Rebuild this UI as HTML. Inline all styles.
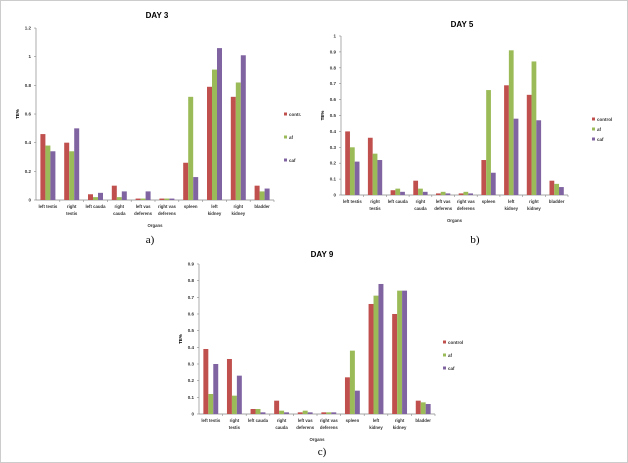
<!DOCTYPE html>
<html><head><meta charset="utf-8"><style>
body{margin:0;background:#fff;}
svg{display:block;font-family:"Liberation Sans",sans-serif;}
</style></head><body>
<svg id="s" width="628" height="463" viewBox="0 0 628 463" xmlns="http://www.w3.org/2000/svg">
<rect x="0.5" y="0.5" width="627" height="462" fill="#fff" stroke="#ccc"/>
</svg>
<script>
const S=document.getElementById('s');const NS='http://www.w3.org/2000/svg';
function el(t,a,txt){const e=document.createElementNS(NS,t);for(const k in a)e.setAttribute(k,a[k]);if(txt!==undefined)e.textContent=txt;S.appendChild(e);return e;}
const cols=['#c0504d','#9bbb59','#8064a2'];
const cats=[['left testis'],['right','testis'],['left cauda'],['right','cauda'],['left vas','deferens'],['right vas','deferens'],['spleen'],['left','kidney'],['right','kidney'],['bladder']];
function chart(c){
 const {x0,x1,y0,unit,max,step,dec,data,title,tx,ty,leg,lx,ly,ldy,lab,labx,laby}=c;
 el('text',{x:tx,y:ty,'font-size':8,'font-weight':'bold','text-anchor':'middle'},title);
 el('line',{x1:x0,y1:y0,x2:x0,y2:y0-max*unit,stroke:'#888','stroke-width':0.7});
 el('line',{x1:x0,y1:y0,x2:x1,y2:y0,stroke:'#888','stroke-width':0.7});
 for(let v=0;v<=max+1e-9;v+=step){const y=y0-v*unit;
  el('line',{x1:x0-2,y1:y,x2:x0,y2:y,stroke:'#888','stroke-width':0.6});
  el('text',{x:x0-5,y:y+1.5,'font-size':4.5,'font-weight':'bold','text-anchor':'end',fill:'#333'},v===0?'0':(+v.toFixed(1)).toString());}
 el('text',{x:0,y:0,'font-size':4.5,'font-weight':'bold','text-anchor':'middle',transform:`translate(${x0-17},${y0-max*unit/2}) rotate(-90)`},'TE%');
 const cw=(x1-x0)/10,bw=cw*0.21;
 data.forEach((g,i)=>{const cx=x0+cw*(i+0.5);
  el('line',{x1:x0+cw*(i+1),y1:y0,x2:x0+cw*(i+1),y2:y0+2,stroke:'#888','stroke-width':0.6});
  g.forEach((v,j)=>{const h=v*unit;el('rect',{x:cx-1.5*bw+j*bw,y:y0-h,width:bw,height:h,fill:cols[j]});});
  cats[i].forEach((t,k)=>el('text',{x:cx,y:y0+8+k*7,'font-size':4.3,'font-weight':'bold','text-anchor':'middle',fill:'#333'},t));
 });
 el('text',{x:(x0+x1)/2,y:y0+27,'font-size':4.3,'font-weight':'bold','text-anchor':'middle',fill:'#333'},'Organs');
 leg.forEach((t,j)=>{el('rect',{x:lx,y:ly+j*ldy-2.5,width:3,height:3,fill:cols[j]});el('text',{x:lx+5,y:ly+j*ldy+1,'font-size':4.5,'font-weight':'bold',fill:'#333'},t);});
 el('text',{x:labx,y:laby,'font-size':11,'font-family':'Liberation Serif,serif','text-anchor':'middle'},lab);
}
chart({x0:36,x1:274,y0:200,unit:143.3,max:1.2,step:0.2,title:'DAY 3',tx:157,ty:18,leg:['contr.','af','caf'],lx:284,ly:115,ldy:23,lab:'a)',labx:150,laby:243,
data:[[0.46,0.38,0.34],[0.40,0.34,0.50],[0.04,0.02,0.05],[0.10,0.02,0.06],[0.01,0.01,0.06],[0.01,0.01,0.01],[0.26,0.72,0.16],[0.79,0.91,1.06],[0.72,0.82,1.01],[0.10,0.06,0.08]]});
chart({x0:341,x1:568,y0:195,unit:159,max:1.0,step:0.1,title:'DAY 5',tx:462,ty:27,leg:['control','af','caf'],lx:592,ly:120,ldy:10,lab:'b)',labx:475,laby:243,
data:[[0.40,0.30,0.21],[0.36,0.26,0.22],[0.03,0.04,0.02],[0.09,0.04,0.02],[0.01,0.02,0.01],[0.01,0.02,0.01],[0.22,0.66,0.14],[0.69,0.91,0.48],[0.63,0.84,0.47],[0.09,0.07,0.05]]});
chart({x0:199,x1:435,y0:414,unit:166.7,max:0.9,step:0.1,title:'DAY 9',tx:322,ty:257,leg:['control','af','caf'],lx:443,ly:343,ldy:13,lab:'c)',labx:322,laby:455,
data:[[0.39,0.12,0.30],[0.33,0.11,0.23],[0.03,0.03,0.01],[0.08,0.02,0.01],[0.01,0.02,0.01],[0.01,0.01,0.01],[0.22,0.38,0.14],[0.66,0.71,0.78],[0.60,0.74,0.74],[0.08,0.07,0.06]]});
</script>
</body></html>
